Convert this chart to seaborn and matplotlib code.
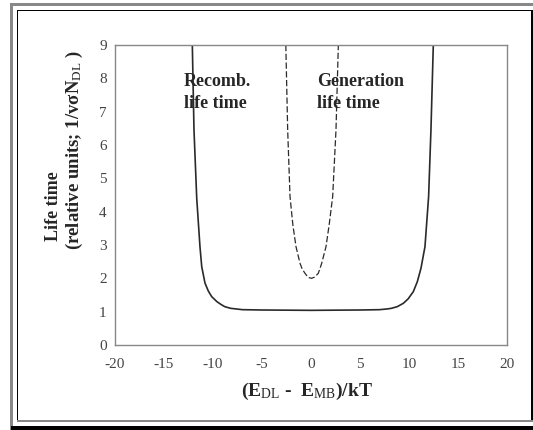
import matplotlib
matplotlib.use("Agg")
import matplotlib.pyplot as plt
import seaborn as sns
import pandas as pd
from matplotlib.patches import Rectangle

# ---- data ----
recomb_x = [-12.11, -11.94, -11.66, -11.33, -11.15, -10.82, -10.48, -10.13, -9.6, -9.2,
            -8.8, -8.2, -7.58, -7.0, -5.0, 0.0, 5.0, 7.0, 7.72, 8.2, 8.8, 9.42, 9.9,
            10.44, 10.85, 11.22, 11.63, 12.0, 12.24, 12.48]
recomb_y = [9.0, 6.45, 4.4, 2.95, 2.35, 1.86, 1.62, 1.45, 1.3, 1.22,
            1.15, 1.1, 1.08, 1.06, 1.05, 1.04, 1.05, 1.06, 1.08, 1.1, 1.15, 1.25, 1.38,
            1.6, 1.9, 2.3, 2.95, 4.45, 6.45, 9.0]

gen_x = [-2.57, -2.38, -2.14, -1.85, -1.53, -1.12, -0.9, -0.61, -0.3, 0.05,
         0.4, 0.74, 0.9, 1.09, 1.53, 1.85, 2.21, 2.55, 2.79]
gen_y = [9.0, 6.45, 4.45, 3.6, 2.95, 2.45, 2.28, 2.15, 2.03, 2.0,
         2.04, 2.15, 2.28, 2.45, 2.95, 3.6, 4.45, 6.45, 9.0]

x_ticks = [-20, -15, -10, -5, 0, 5, 10, 15, 20]
y_ticks = [0, 1, 2, 3, 4, 5, 6, 7, 8, 9]

sns.set_style("white")
plt.rcParams['font.family'] = ['Liberation Serif', 'DejaVu Serif']
plt.rcParams['mathtext.fontset'] = 'custom'
plt.rcParams['mathtext.rm'] = 'Liberation Serif'
plt.rcParams['mathtext.bf'] = 'Liberation Serif:bold'
plt.rcParams['mathtext.it'] = 'Liberation Serif:italic'

fig = plt.figure(figsize=(5.33, 4.30), dpi=100)
ax = fig.add_axes([115/533, 1-345/430, 392/533, 300/430])

df_r = pd.DataFrame({"x": recomb_x, "y": recomb_y})
df_g = pd.DataFrame({"x": gen_x, "y": gen_y})
sns.lineplot(data=df_r, x="x", y="y", sort=False, ax=ax, color="#2a2a2a", lw=1.2)
sns.lineplot(data=df_g, x="x", y="y", sort=False, ax=ax, color="#2a2a2a", lw=0.9)
ax.lines[-1].set_dashes((5, 2))

ax.set_xlim(-20, 20)
ax.set_ylim(0, 9)
ax.set_xticks(x_ticks)
ax.set_xticklabels([str(t) for t in x_ticks])
ax.set_yticks(y_ticks)
ax.set_yticklabels([str(t) for t in y_ticks])
ax.tick_params(direction='in', length=4, width=0.8, color='#888888',
               labelsize=11, labelcolor='#444444')
ax.tick_params(axis='x', pad=9)
ax.tick_params(axis='y', pad=6)
for s in ax.spines.values():
    s.set_color('#888888')
    s.set_linewidth(1.0)
ax.set_xlabel("")
ax.set_ylabel("")

ax.text(-12.96, 8.16, "Recomb.\nlife time", fontsize=13, fontweight='bold',
        ha='left', va='top', linespacing=1.35)
ax.text(0.58, 8.16, "Generation\nlife time", fontsize=13, fontweight='bold',
        ha='left', va='top', linespacing=1.35)

fig.text(307/533, 1-391/430, r"($\mathbf{E}_{\mathrm{DL}}$ -  $\mathbf{E}_{\mathrm{MB}}$)/kT",
         fontsize=14, fontweight='bold', ha='center', va='center')
fig.text(54/533, 1-241/430, "Life time", fontsize=13, fontweight='bold',
         rotation=90, ha='center', va='bottom')
fig.text(74/533, 1-250/430, "(relative units; 1/vσ" + r"$\mathbf{N}_{\mathrm{DL}}$" + " )",
         fontsize=13.5, fontweight='bold', rotation=90, ha='center', va='bottom')

# screenshot frame
def px_rect(x0, y0, x1, y1, color):
    fig.add_artist(Rectangle((x0/533, 1-y1/430), (x1-x0)/533, (y1-y0)/430,
                             transform=fig.transFigure, facecolor=color,
                             edgecolor='none', zorder=10))

px_rect(10, 3, 533, 5.5, '#888888')      # outer gray top
px_rect(10, 3, 12.5, 430, '#888888')     # outer gray left
px_rect(16.5, 9.5, 533, 11, '#000000')   # inner black top
px_rect(16.5, 9.5, 18, 421, '#000000')   # inner black left
px_rect(531, 9.5, 533, 421, '#000000')   # inner black right
px_rect(16.5, 420, 533, 421.5, '#888888')  # inner bottom gray
px_rect(11, 426, 533, 430, '#000000')    # bottom thick black

fig.savefig("out.png", dpi=100)
